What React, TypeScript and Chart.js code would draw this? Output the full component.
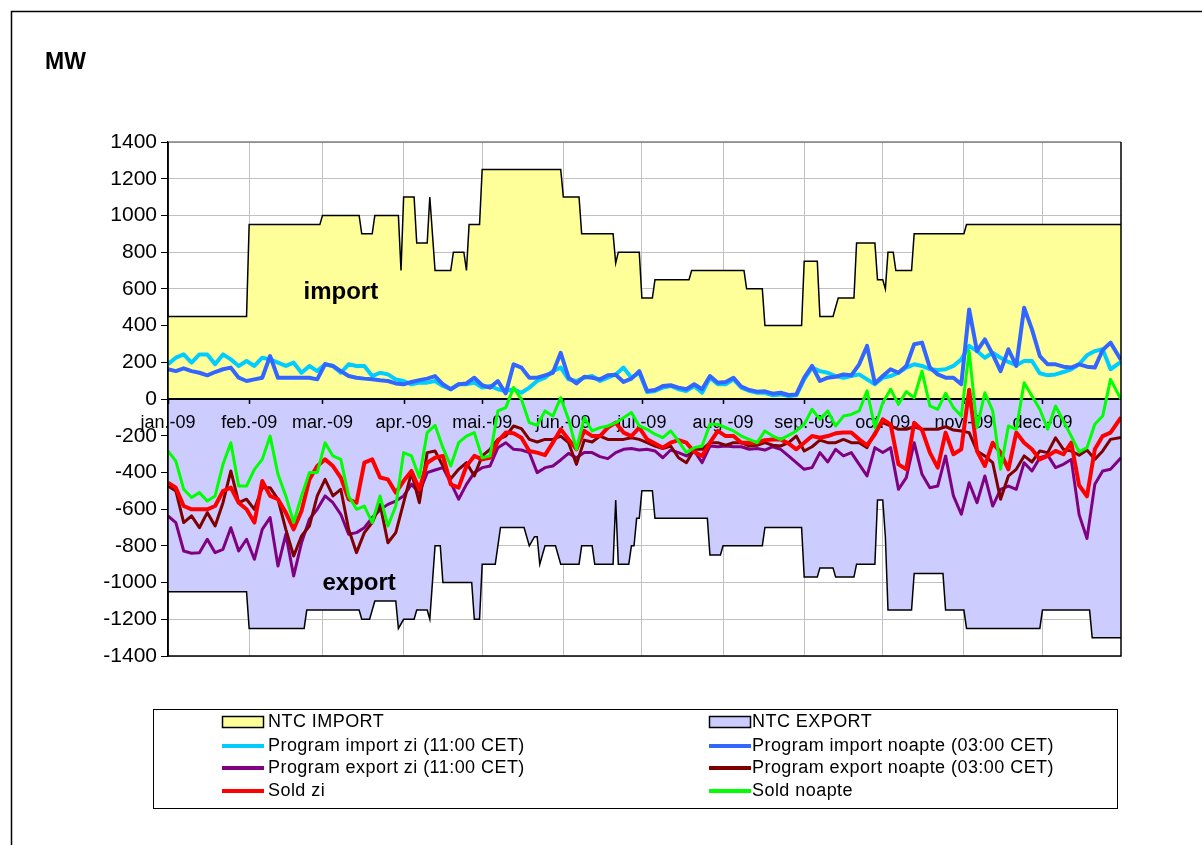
import React, { useEffect, useRef } from "react";
import { Chart, registerables } from "chart.js";

Chart.register(...registerables);

const FONT = '"Liberation Sans", Arial, Helvetica, sans-serif';

// x-axis categories (month starts, day-of-year 2009)
const monthLabels = ["jan.-09", "feb.-09", "mar.-09", "apr.-09", "mai.-09", "jun.-09", "jul.-09", "aug.-09", "sep.-09", "oct.-09", "nov.-09", "dec.-09"];
const monthStartDays = [0, 31, 59, 90, 120, 151, 181, 212, 243, 273, 304, 334];
const yTicks = [-1400, -1200, -1000, -800, -600, -400, -200, 0, 200, 400, 600, 800, 1000, 1200, 1400];

// NTC step values (day of year, MW)
const ntcImportDays = [0, 30, 31, 58, 59, 73, 74, 78, 79, 88, 89, 90, 94, 95, 99, 100, 102, 108, 109, 113, 114, 115, 119, 120, 150, 151, 157, 158, 170, 171, 172, 180, 181, 185, 186, 199, 200, 220, 221, 227, 228, 242, 243, 248, 249, 254, 255, 256, 262, 263, 270, 271, 273, 274, 275, 277, 278, 284, 285, 304, 305, 364];
const ntcImportValues = [450, 450, 950, 950, 1000, 1000, 900, 900, 1000, 1000, 700, 1100, 1100, 850, 850, 1100, 700, 700, 800, 800, 700, 950, 950, 1250, 1250, 1100, 1100, 900, 900, 740, 800, 800, 550, 550, 650, 650, 700, 700, 600, 600, 400, 400, 750, 750, 450, 450, 500, 550, 550, 850, 850, 650, 650, 600, 800, 800, 700, 700, 900, 900, 950, 950];

const ntcExportDays = [0, 30, 31, 52, 53, 73, 74, 77, 79, 87, 88, 90, 94, 95, 99, 100, 102, 104, 105, 116, 117, 119, 120, 125, 127, 136, 138, 140, 141, 142, 144, 148, 150, 157, 158, 162, 163, 170, 171, 172, 176, 177, 178, 179, 180, 181, 185, 186, 206, 207, 211, 212, 227, 228, 242, 243, 248, 249, 254, 255, 262, 263, 270, 271, 273, 274, 275, 284, 285, 296, 297, 304, 305, 333, 334, 352, 353, 364];
const ntcExportValues = [-1050, -1050, -1250, -1250, -1150, -1150, -1200, -1200, -1100, -1100, -1250, -1200, -1200, -1150, -1150, -1200, -800, -800, -1000, -1000, -1200, -1200, -900, -900, -700, -700, -800, -750, -750, -900, -800, -800, -900, -900, -800, -800, -900, -900, -550, -900, -900, -800, -800, -650, -650, -500, -500, -650, -650, -850, -850, -800, -800, -700, -700, -970, -970, -920, -920, -970, -970, -900, -900, -550, -550, -750, -1150, -1150, -950, -950, -1150, -1150, -1250, -1250, -1150, -1150, -1300, -1300];

// sampled days for the program / sold series
const sampleDays = [0, 3, 6, 9, 12, 15, 18, 21, 24, 27, 30, 33, 36, 39, 42, 45, 48, 51, 54, 57, 60, 63, 66, 69, 72, 75, 78, 81, 84, 87, 90,
  93, 96, 99, 102, 105, 108, 111, 114, 117, 120, 123, 126, 129, 132, 135, 138, 141, 144, 147, 150, 153, 156, 159, 162, 165, 168, 171, 174, 177, 180,
  183, 186, 189, 192, 195, 198, 201, 204, 207, 210, 213, 216, 219, 222, 225, 228, 231, 234, 237, 240, 243, 246, 249, 252, 255, 258, 261, 264, 267, 270,
  273, 276, 279, 282, 285, 288, 291, 294, 297, 300, 303, 306, 309, 312, 315, 318, 321, 324, 327, 330, 333, 336, 339, 342, 345, 348, 351, 354, 357, 360, 364];

const progImportZi = [190, 225, 243, 198, 243, 243, 190, 243, 216, 180, 207, 180, 225, 216, 198, 180, 198, 143, 180, 152, 189, 180, 143, 189, 180, 180, 125, 143, 134, 107, 98,
  80, 89, 89, 98, 71, 53, 80, 80, 89, 62, 71, 53, 44, 53, 34, 62, 98, 116, 152, 171, 107, 98, 116, 125, 98, 116, 134, 171, 116, 143,
  38, 44, 62, 71, 53, 44, 71, 34, 116, 80, 80, 107, 62, 44, 34, 34, 20, 25, 16, 20, 107, 171, 152, 143, 125, 116, 125, 134, 107, 80,
  116, 125, 143, 171, 189, 180, 162, 158, 162, 180, 216, 289, 261, 225, 252, 225, 202, 184, 207, 207, 140, 129, 134, 147, 162, 189, 238, 261, 271, 162, 202];

const progImportNoapte = [162, 152, 167, 152, 143, 129, 147, 162, 171, 116, 98, 107, 116, 234, 116, 116, 116, 116, 116, 107, 190, 180, 152, 125, 116, 111, 107, 102, 98, 85, 80,
  93, 103, 111, 125, 80, 53, 80, 85, 116, 75, 62, 98, 31, 189, 171, 116, 116, 129, 143, 252, 116, 85, 121, 116, 107, 129, 132, 93, 111, 152,
  44, 49, 71, 75, 62, 53, 80, 53, 125, 89, 93, 116, 67, 49, 40, 42, 29, 34, 22, 25, 116, 180, 98, 116, 121, 134, 129, 189, 289, 85,
  125, 162, 143, 180, 298, 307, 171, 134, 116, 116, 80, 488, 261, 325, 243, 152, 271, 180, 497, 379, 234, 189, 189, 176, 171, 189, 176, 171, 267, 307, 212];

const progExportZi = [-637, -673, -828, -840, -837, -764, -837, -819, -701, -828, -764, -873, -710, -646, -910, -737, -964, -783, -655, -601, -528, -565, -628, -737, -728, -701, -646, -604, -574, -556, -528,
  -465, -510, -401, -387, -374, -456, -546, -465, -401, -374, -365, -265, -238, -274, -278, -292, -401, -374, -365, -332, -296, -320, -292, -292, -314, -325, -292, -274, -270, -278,
  -274, -283, -320, -278, -292, -310, -283, -347, -256, -260, -256, -260, -260, -274, -270, -278, -260, -274, -310, -347, -383, -374, -292, -343, -274, -310, -292, -356, -419, -265,
  -292, -265, -492, -428, -238, -410, -483, -474, -310, -528, -628, -456, -565, -419, -583, -492, -474, -492, -347, -392, -320, -306, -374, -356, -329, -630, -760, -465, -392, -383, -320];

const progExportNoapte = [-474, -501, -673, -637, -701, -619, -692, -565, -392, -565, -546, -601, -483, -483, -546, -710, -855, -746, -692, -528, -438, -528, -492, -710, -837, -728, -673, -574, -783, -728, -565,
  -401, -565, -292, -283, -365, -434, -383, -347, -419, -310, -274, -220, -202, -147, -161, -220, -234, -220, -220, -202, -238, -356, -224, -234, -202, -220, -220, -220, -211, -220,
  -238, -256, -270, -256, -320, -347, -274, -274, -238, -238, -252, -238, -238, -256, -252, -238, -252, -256, -238, -202, -283, -260, -224, -238, -238, -220, -238, -238, -265, -183,
  -129, -147, -165, -165, -151, -165, -165, -165, -151, -169, -174, -183, -283, -310, -347, -546, -419, -383, -310, -343, -283, -292, -211, -274, -283, -306, -278, -329, -283, -220, -209];

const soldZi = [-456, -483, -583, -601, -601, -601, -583, -501, -483, -565, -601, -673, -447, -528, -546, -619, -710, -610, -438, -365, -329, -365, -428, -546, -565, -347, -329, -428, -438, -510, -447,
  -392, -492, -347, -320, -310, -465, -483, -365, -310, -329, -320, -229, -183, -187, -211, -283, -292, -306, -238, -165, -220, -274, -174, -202, -202, -156, -129, -183, -202, -156,
  -220, -242, -265, -238, -224, -238, -288, -310, -238, -174, -202, -202, -238, -238, -238, -224, -220, -220, -242, -274, -238, -202, -211, -202, -187, -183, -183, -220, -252, -192,
  -111, -138, -356, -383, -129, -169, -292, -374, -183, -301, -274, 50, -283, -365, -238, -292, -383, -183, -238, -274, -329, -310, -283, -301, -238, -470, -530, -274, -202, -183, -100];

const soldNoapte = [-283, -338, -492, -537, -510, -556, -528, -356, -238, -474, -474, -383, -329, -202, -410, -528, -673, -528, -401, -401, -238, -310, -329, -528, -601, -583, -673, -528, -692, -583, -292,
  -310, -428, -183, -143, -265, -365, -238, -202, -183, -320, -310, -65, -47, 62, -2, -129, -143, -65, -93, 7, -111, -274, -102, -174, -156, -147, -129, -102, -74, -147,
  -165, -192, -211, -174, -229, -292, -265, -256, -138, -138, -156, -174, -202, -220, -238, -174, -202, -220, -198, -174, -138, -56, -111, -65, -147, -93, -84, -65, 44, -156,
  -20, 53, -29, 40, 7, 152, -38, -56, 31, -47, -93, 261, -156, 34, -65, -383, -147, -165, 89, 16, -56, -165, -38, -120, -202, -288, -265, -138, -93, 107, -2];

const seriesNames = ["NTC IMPORT", "NTC EXPORT", "Program import zi (11:00 CET)", "Program import noapte (03:00 CET)", "Program export zi (11:00 CET)", "Program export noapte (03:00 CET)", "Sold zi", "Sold noapte"];

// annotation text anchors in data units [day, MW]
const importLabelAt = [66, 580];
const exportLabelAt = [73, -1005];

const toPoints = (xs: number[], ys: number[]) => xs.map((x, i) => ({ x, y: ys[i] }));

const decorPlugin = {
  id: "decor",
  beforeDatasetsDraw(chart: any) {
    const { ctx, chartArea: a, scales } = chart;
    const xs = scales.x;
    const ys = scales.y;
    const y0 = ys.getPixelForValue(0);
    ctx.save();
    ctx.fillStyle = "#000";
    ctx.textAlign = "center";
    ctx.textBaseline = "middle";
    ctx.font = `18px ${FONT}`;
    monthStartDays.forEach((d, i) => {
      ctx.fillText(monthLabels[i], xs.getPixelForValue(d), y0 + 24);
    });
    ctx.font = `bold 24px ${FONT}`;
    ctx.fillText("import", xs.getPixelForValue(importLabelAt[0]), ys.getPixelForValue(importLabelAt[1]));
    ctx.fillText("export", xs.getPixelForValue(exportLabelAt[0]), ys.getPixelForValue(exportLabelAt[1]));
    // zero axis
    ctx.strokeStyle = "#000";
    ctx.lineWidth = 2;
    ctx.beginPath();
    ctx.moveTo(a.left, y0);
    ctx.lineTo(a.right, y0);
    ctx.stroke();
    ctx.lineWidth = 1.5;
    monthStartDays.forEach((d) => {
      const px = Math.round(xs.getPixelForValue(d)) + 0.5;
      ctx.beginPath();
      ctx.moveTo(px, y0);
      ctx.lineTo(px, y0 + 5);
      ctx.stroke();
    });
    ctx.restore();
  },
  afterDatasetsDraw(chart: any) {
    const { ctx, chartArea: a } = chart;
    ctx.save();
    ctx.strokeStyle = "#808080";
    ctx.lineWidth = 1.5;
    ctx.beginPath();
    ctx.moveTo(a.left, a.top);
    ctx.lineTo(a.right, a.top);
    ctx.stroke();
    ctx.strokeStyle = "#000";
    ctx.beginPath();
    ctx.moveTo(a.right, a.top);
    ctx.lineTo(a.right, a.bottom);
    ctx.lineTo(a.left, a.bottom);
    ctx.lineTo(a.left, a.top);
    ctx.stroke();
    ctx.restore();
  },
  afterDraw(chart: any) {
    const { ctx } = chart;
    ctx.save();
    // outer frame
    ctx.strokeStyle = "#000";
    ctx.lineWidth = 1.5;
    ctx.strokeRect(11.5, 11.5, 1300, 900);
    // unit
    ctx.fillStyle = "#000";
    ctx.font = `bold 23px ${FONT}`;
    ctx.textAlign = "left";
    ctx.textBaseline = "middle";
    ctx.fillText("MW", 45, 63);
    // legend
    ctx.lineWidth = 1;
    ctx.strokeRect(153.5, 709.5, 964, 99);
    const rowY = [722, 746, 768, 791];
    const swX = [222, 709];
    const txX = [268, 752];
    ctx.font = `18px ${FONT}`;
    try {
      (ctx as any).letterSpacing = "0.45px";
    } catch (e) {
      /* ignore */
    }
    chart.data.datasets.forEach((ds: any, i: number) => {
      const col = i % 2;
      const row = Math.floor(i / 2);
      const cy = rowY[row];
      if (ds.fill) {
        ctx.fillStyle = ds.backgroundColor;
        ctx.fillRect(swX[col], cy - 6, 42, 12);
        ctx.strokeStyle = "#000";
        ctx.lineWidth = 1.5;
        ctx.strokeRect(swX[col] + 0.5, cy - 5.5, 41, 11);
      } else {
        ctx.strokeStyle = ds.borderColor;
        ctx.lineWidth = 4;
        ctx.beginPath();
        ctx.moveTo(swX[col], cy);
        ctx.lineTo(swX[col] + 42, cy);
        ctx.stroke();
      }
      ctx.fillStyle = "#000";
      ctx.fillText(ds.label, txX[col], cy);
    });
    ctx.restore();
  },
};

export default function App() {
  const ref = useRef<HTMLCanvasElement | null>(null);
  useEffect(() => {
    if (!ref.current) return;
    const line = (i: number, values: number[], color: string, width: number, order: number) => ({
      label: seriesNames[i],
      data: toPoints(sampleDays, values),
      borderColor: color,
      backgroundColor: color,
      borderWidth: width,
      pointRadius: 0,
      fill: false,
      tension: 0,
      borderJoinStyle: "round" as const,
      order,
    });
    const chart = new Chart(ref.current, {
      type: "line",
      data: {
        datasets: [
          { label: seriesNames[0], data: toPoints(ntcImportDays, ntcImportValues), borderColor: "#000", backgroundColor: "#FFFF99", borderWidth: 1.5, pointRadius: 0, fill: "origin", tension: 0, order: 7 },
          { label: seriesNames[1], data: toPoints(ntcExportDays, ntcExportValues), borderColor: "#000", backgroundColor: "#CCCCFF", borderWidth: 1.5, pointRadius: 0, fill: "origin", tension: 0, order: 6 },
          line(2, progImportZi, "#00CCFF", 4, 5),
          line(3, progImportNoapte, "#3366FF", 4, 4),
          line(4, progExportZi, "#800080", 3, 3),
          line(5, progExportNoapte, "#800000", 3, 2),
          line(6, soldZi, "#FF0000", 4, 1),
          line(7, soldNoapte, "#00FF00", 3, 0),
        ] as any,
      },
      options: {
        responsive: false,
        animation: false,
        events: [],
        layout: { padding: { left: 0, top: 142, right: 81, bottom: 189 } },
        plugins: {
          legend: { display: false },
          tooltip: { enabled: false },
          filler: { drawTime: "beforeDatasetsDraw" } as any,
        },
        scales: {
          x: {
            type: "linear",
            min: 0,
            max: 364,
            position: { y: 0 } as any,
            afterBuildTicks: (s: any) => {
              s.ticks = monthStartDays.map((v) => ({ value: v }));
            },
            ticks: { display: false },
            grid: { color: "#c0c0c0", lineWidth: 1, drawTicks: false },
            border: { display: false },
          },
          y: {
            min: -1400,
            max: 1400,
            afterBuildTicks: (s: any) => {
              s.ticks = yTicks.map((v) => ({ value: v }));
            },
            afterFit: (s: any) => {
              s.width = 168;
            },
            ticks: {
              color: "#000",
              font: { family: FONT, size: 21 },
              padding: 4,
              callback: (v: any) => String(v),
            },
            grid: { color: "#c0c0c0", lineWidth: 1, tickLength: 7, tickColor: "#000" },
            border: { color: "#000", width: 1.5 },
          },
        },
      },
      plugins: [decorPlugin],
    });
    return () => chart.destroy();
  }, []);
  return (
    <div style={{ position: "absolute", left: 0, top: 0, width: 1202, height: 845, background: "#fff" }}>
      <canvas ref={ref} width={1202} height={845} style={{ display: "block" }} />
    </div>
  );
}
